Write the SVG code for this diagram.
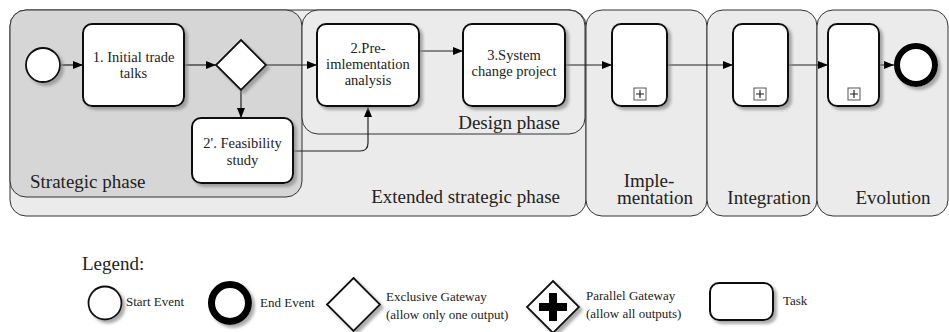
<svg xmlns="http://www.w3.org/2000/svg" width="949" height="332" viewBox="0 0 949 332" font-family="'Liberation Serif', 'Times New Roman', 'DejaVu Serif', serif">
<style>
.pool{fill:#ebebeb;stroke:#333;stroke-width:1}
.dark{fill:#d6d6d6}
.task{fill:#fff;stroke:#111;stroke-width:2}
.ev{fill:#fff;stroke:#111;stroke-width:1.8}
.end{fill:#fff;stroke:#000;stroke-width:6}
text{font-family:'Liberation Serif','Times New Roman','DejaVu Serif',serif;fill:#222}
.tk{font-size:14.5px;text-anchor:middle}
.ph{font-size:19px}
.lg{font-size:13px}
.con{fill:none;stroke:#222;stroke-width:1.2}
.sh{filter:url(#shadow)}
</style>
<defs>
<filter id="shadow" x="-20%" y="-20%" width="150%" height="150%">
<feDropShadow dx="3" dy="3" stdDeviation="1.5" flood-color="#888" flood-opacity="0.7"/>
</filter>
<marker id="arr" markerWidth="10" markerHeight="8" refX="10" refY="4" orient="auto" markerUnits="userSpaceOnUse">
<path d="M0,0 L10,4 L0,8 Z" fill="#000"/>
</marker>
</defs>

<g id="pool-extended">
<rect class="pool" x="10" y="10" width="576" height="206" rx="16"/>
<text class="ph" x="560" y="203" text-anchor="end">Extended strategic phase</text>
</g>
<g id="pool-strategic">
<rect class="pool dark" x="10" y="10" width="292" height="187" rx="16"/>
<text class="ph" x="30" y="188">Strategic phase</text>
</g>
<g id="pool-design">
<rect class="pool" x="302" y="10" width="283" height="124" rx="16"/>
<text class="ph" x="560" y="129" text-anchor="end">Design phase</text>
</g>
<g id="pool-implementation">
<rect class="pool" x="586" y="10" width="121" height="206" rx="16"/>
<text class="ph" x="649" y="187" text-anchor="middle">Imple-</text>
<text class="ph" x="655" y="204" text-anchor="middle">mentation</text>
</g>
<g id="pool-integration">
<rect class="pool" x="707" y="10" width="110" height="206" rx="16"/>
<text class="ph" x="769" y="204" text-anchor="middle">Integration</text>
</g>
<g id="pool-evolution">
<rect class="pool" x="817" y="10" width="131" height="206" rx="16"/>
<text class="ph" x="893" y="204" text-anchor="middle">Evolution</text>
</g>

<g id="connectors">
<line class="con" x1="61" y1="65" x2="83" y2="65" marker-end="url(#arr)"/>
<line class="con" x1="184" y1="65" x2="216" y2="65" marker-end="url(#arr)"/>
<line class="con" x1="266" y1="65" x2="317" y2="65" marker-end="url(#arr)"/>
<line class="con" x1="241" y1="90" x2="241" y2="118" marker-end="url(#arr)"/>
<path class="con" d="M293,151 H360 Q368,151 368,143 V107" marker-end="url(#arr)"/>
<line class="con" x1="419" y1="51" x2="463" y2="51" marker-end="url(#arr)"/>
<line class="con" x1="565" y1="65" x2="612" y2="65" marker-end="url(#arr)"/>
<line class="con" x1="667" y1="65" x2="733" y2="65" marker-end="url(#arr)"/>
<line class="con" x1="788" y1="65" x2="828" y2="65" marker-end="url(#arr)"/>
<line class="con" x1="879" y1="65" x2="894" y2="65" marker-end="url(#arr)"/>
</g>

<g id="start">
<circle class="ev sh" cx="43" cy="65" r="17"/>
</g>
<g id="task1">
<rect class="task sh" x="83" y="24" width="101" height="82" rx="9"/>
<text class="tk" x="133.5" y="62">1. Initial trade</text>
<text class="tk" x="133.5" y="78">talks</text>
</g>
<g id="gateway">
<path class="ev sh" d="M241,40 L266,65 L241,90 L216,65 Z"/>
</g>
<g id="task2b">
<rect class="task sh" x="192" y="118" width="101" height="65" rx="9"/>
<text class="tk" x="242.5" y="148">2'. Feasibility</text>
<text class="tk" x="242.5" y="165">study</text>
</g>
<g id="task2">
<rect class="task sh" x="317" y="24" width="102" height="82" rx="9"/>
<text class="tk" x="368" y="53">2.Pre-</text>
<text class="tk" x="368" y="69">imlementation</text>
<text class="tk" x="368" y="85">analysis</text>
</g>
<g id="task3">
<rect class="task sh" x="463" y="24" width="102" height="82" rx="9"/>
<text class="tk" x="514" y="60">3.System</text>
<text class="tk" x="514" y="76">change project</text>
</g>
<g id="sub-impl">
<rect class="task sh" x="612" y="24" width="55" height="82" rx="9"/>
<rect x="634" y="88" width="12" height="12" fill="#fff" stroke="#555" stroke-width="1"/>
<path d="M636,94 H644 M640,90 V98" stroke="#222" stroke-width="1.2"/>
</g>
<g id="sub-integ">
<rect class="task sh" x="733" y="24" width="55" height="82" rx="9"/>
<rect x="754" y="88" width="12" height="12" fill="#fff" stroke="#555" stroke-width="1"/>
<path d="M756,94 H764 M760,90 V98" stroke="#222" stroke-width="1.2"/>
</g>
<g id="sub-evo">
<rect class="task sh" x="828" y="24" width="51" height="82" rx="9"/>
<rect x="848" y="88" width="12" height="12" fill="#fff" stroke="#555" stroke-width="1"/>
<path d="M850,94 H858 M854,90 V98" stroke="#222" stroke-width="1.2"/>
</g>
<g id="end">
<circle class="end sh" cx="916" cy="65" r="19"/>
</g>

<g id="legend">
<text class="ph" x="82" y="270">Legend:</text>
<circle class="ev sh" cx="105" cy="303" r="16.5"/>
<text class="lg" x="126" y="306">Start Event</text>
<circle class="sh" cx="230" cy="303" r="18.5" fill="#fff" stroke="#000" stroke-width="7"/>
<text class="lg" x="260" y="307">End Event</text>
<path class="ev sh" d="M353.5,278 L380,304.5 L353.5,331 L327,304.5 Z"/>
<text class="lg" x="386" y="301">Exclusive Gateway</text>
<text class="lg" x="386" y="319">(allow only one output)</text>
<path class="ev sh" d="M553,281 L579,307 L553,333 L527,307 Z"/>
<path d="M539,307 H567 M553,293 V321" stroke="#000" stroke-width="8"/>
<text class="lg" x="586" y="300">Parallel Gateway</text>
<text class="lg" x="586" y="318">(allow all outputs)</text>
<rect class="task sh" x="710" y="283" width="63" height="37" rx="9"/>
<text class="lg" x="783" y="305">Task</text>
</g>
</svg>
